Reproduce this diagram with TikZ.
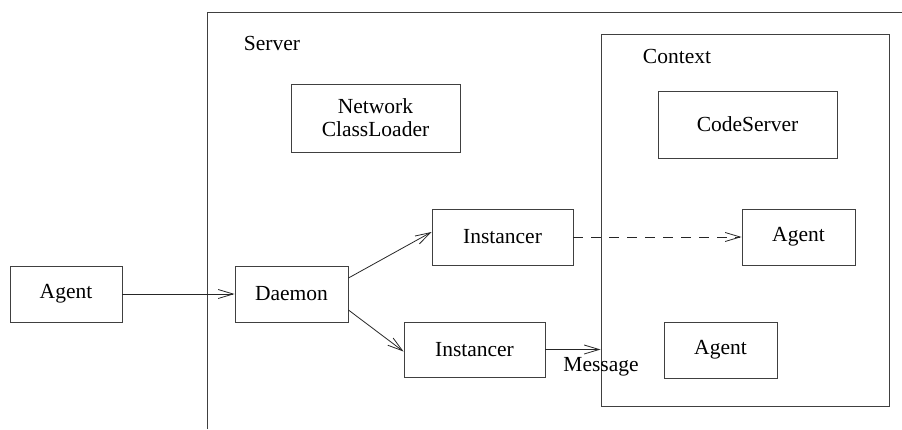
\documentclass[tikz,border=0pt]{standalone}
\usepackage{fontspec}
\setmainfont{Liberation Serif}
\usetikzlibrary{arrows.meta}
\begin{document}
\begin{tikzpicture}[x=1pt,y=-1pt,
  line width=0.9pt,
  every node/.style={font=\fontsize{21.5}{25}\selectfont},
  box/.style={draw=black!75, minimum width=#1, inner sep=0pt},
  box/.default=113pt,
  link/.style={draw=black!85, line width=0.8pt, -{Straight Barb[length=15pt,width=9pt,line width=0.8pt]}},
  label/.style={inner sep=0pt}]
\useasboundingbox (0,0) rectangle (902,429);
% outer server frame, open to the right and bottom
\draw[black!75] (207,429) -- (207,12) -- (902,12);
\node[label] (srv) at (272,43) {Server};
% context box
\node[draw=black!75, minimum width=288pt, minimum height=372pt, inner sep=0pt] (ctx) at (745,220) {};
\node[label] (ctxl) at (677,56) {Context};
% nodes
\node[box=169pt, minimum height=68pt, align=center] (ncl) at (375.5,118) {Network\\[-2pt]ClassLoader};
\node[box=179pt, minimum height=67pt] (cs) at (747.5,124.5) {CodeServer};
\node[box=112pt, minimum height=56pt] (a0) at (66,294) {Agent};
\node[box=113pt, minimum height=56pt] (dm) at (291.5,294) {Daemon};
\node[box=141pt, minimum height=56pt] (i1) at (502.5,237) {Instancer};
\node[box=141pt, minimum height=55pt] (i2) at (474.5,349.5) {Instancer};
\node[box=113pt, minimum height=56pt] (a1) at (798.5,237) {Agent};
\node[box=113pt, minimum height=56pt] (a2) at (720.5,350) {Agent};
% connectors
\draw[link] (a0.east) -- (dm.west);
\draw[link] ([yshift=16pt]dm.east) -- ([yshift=5pt]i1.west);
\draw[link] ([yshift=-16pt]dm.east) -- ([yshift=-2pt]i2.west);
\draw[link, dash pattern=on 10pt off 8pt] (i1.east) -- (a1.west);
\coordinate (msgend) at (i2.east -| ctx.west);
\draw[link] (i2.east) -- (msgend);
\node[label] (msg) at (601,367) {Message};
\end{tikzpicture}
\end{document}
